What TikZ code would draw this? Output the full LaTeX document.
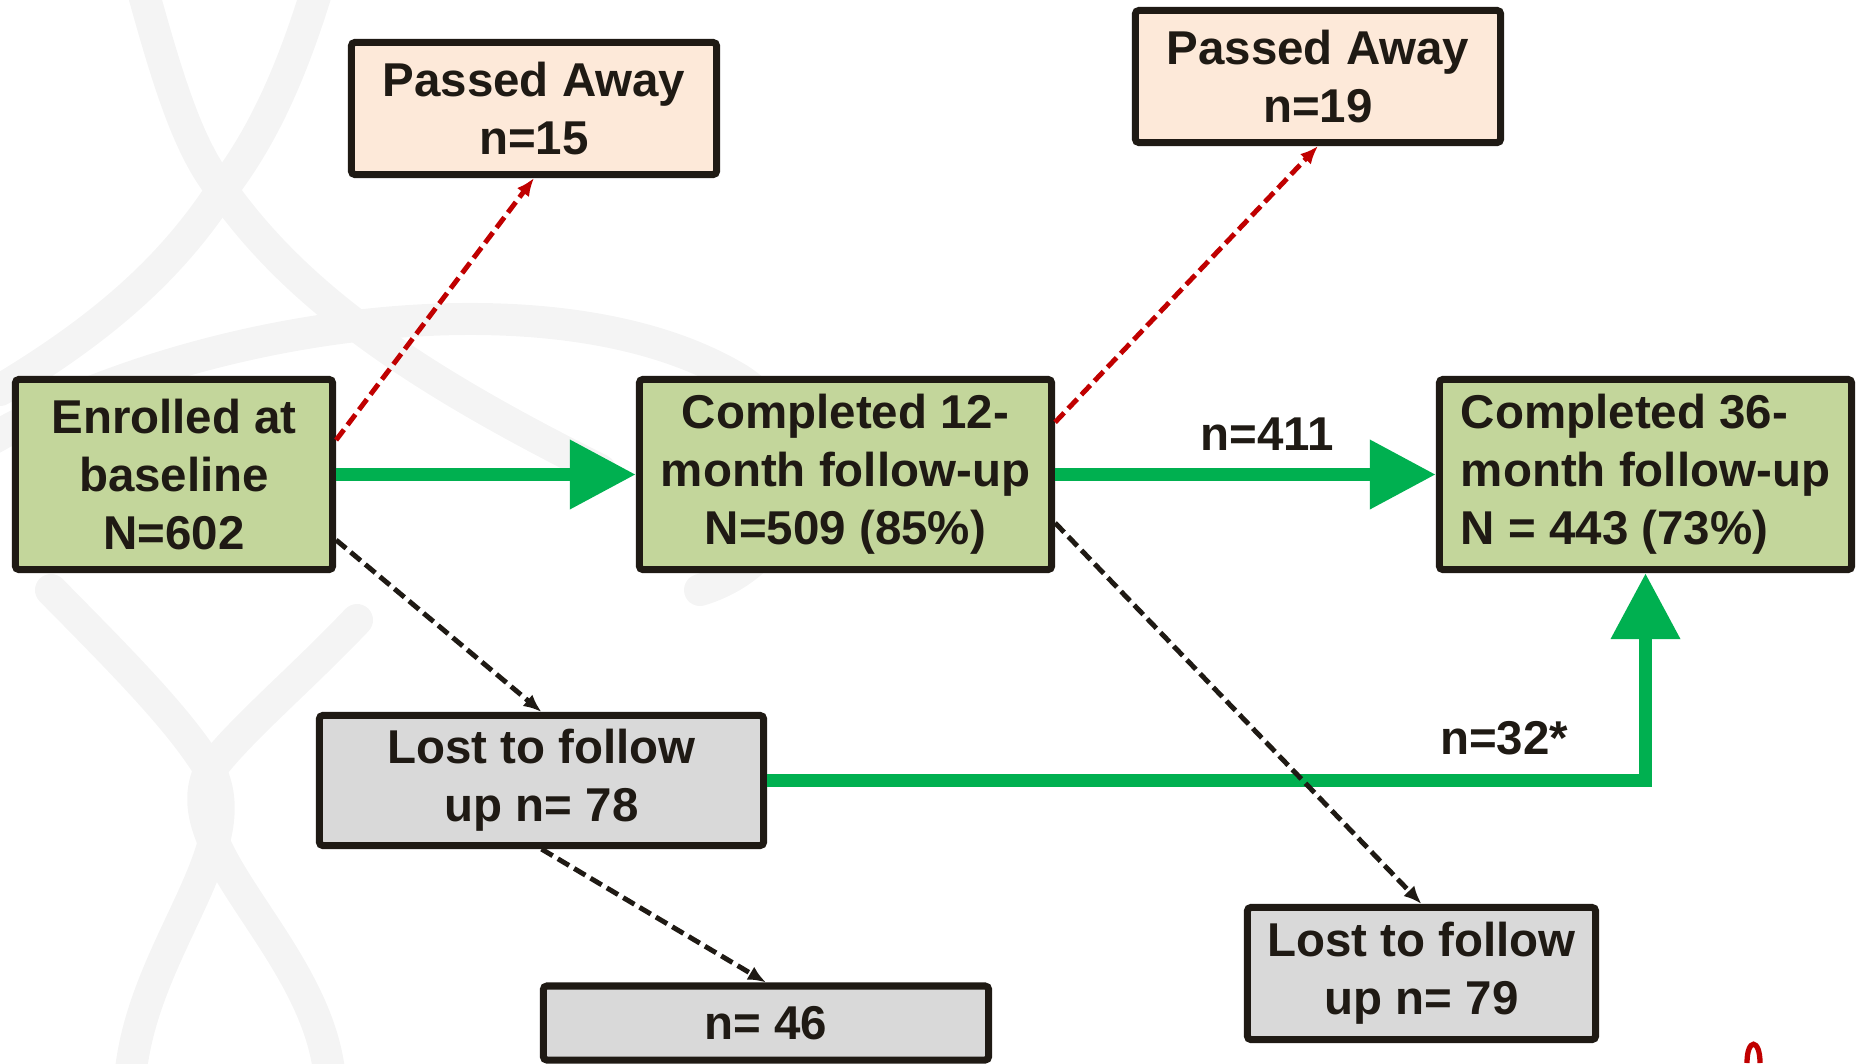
\documentclass[tikz,border=0pt]{standalone}
\usepackage{fontspec}
\setmainfont{Liberation Sans}
\usetikzlibrary{arrows.meta}
\definecolor{boxgreen}{HTML}{C3D69B}
\definecolor{boxpeach}{HTML}{FDE9D9}
\definecolor{boxgrey}{HTML}{D9D9D9}
\definecolor{flowgreen}{HTML}{00B050}
\definecolor{deathred}{HTML}{C00000}
\definecolor{inkdark}{HTML}{1F1A14}
\definecolor{markgrey}{HTML}{F4F4F4}
\tikzset{
    stagebox/.style={draw=inkdark, line width=2pt, rounded corners=1pt, text=inkdark, inner sep=0pt,
        font=\fontsize{13.5}{16.5}\selectfont\bfseries},
    greenbox/.style={stagebox, fill=boxgreen, minimum width=4.12cm, minimum height=1.90cm},
    peachbox/.style={stagebox, fill=boxpeach, align=center, minimum width=3.65cm, minimum height=1.32cm},
    greybox/.style={stagebox, fill=boxgrey, align=center, minimum height=1.30cm},
    countlabel/.style={text=inkdark, font=\fontsize{13.5}{16.5}\selectfont\bfseries},
    flowarrow/.style={draw=flowgreen, line width=0.135cm, -{Triangle[length=0.66cm,width=0.66cm]}},
    deatharrow/.style={draw=deathred, line width=1.4pt, dash pattern=on 0.13cm off 0.06cm, -{Latex[length=0.18cm,width=0.15cm]}},
    lossarrow/.style={draw=inkdark, line width=1.4pt, dash pattern=on 0.13cm off 0.06cm, -{Latex[length=0.18cm,width=0.15cm]}},
    watermark/.style={draw=markgrey, line width=0.32cm, line cap=round}
}

\begin{document}
\begin{tikzpicture}[x=0.01cm, y=-0.01cm]
                \useasboundingbox (0,0) rectangle (1860,1063);

                \draw[watermark] (140,-20) .. controls (170,90) and (190,150) .. (222,190)
                                           .. controls (300,300) and (420,380) .. (600,470);
                \draw[watermark] (320,-20) .. controls (290,80) and (260,140) .. (222,190)
                                           .. controls (170,270) and (100,330) .. (0,390);
                \draw[watermark] (-10,440) .. controls (200,320) and (560,270) .. (740,380)
                                           .. controls (830,440) and (800,560) .. (700,590);
                \draw[watermark] (51,590) .. controls (120,660) and (180,720) .. (210,770)
                                          .. controls (250,850) and (140,950) .. (130,1080);
                \draw[watermark] (357,620) .. controls (300,680) and (240,730) .. (210,770)
                                           .. controls (170,850) and (320,950) .. (330,1080);

                \node[greenbox, align=center, minimum width=3.17cm] (enrol) at (174,474.5) {Enrolled at\\baseline\\N=602};
                \node[greenbox, align=center] (c12) at (845.5,474.5) {Completed 12-\\month follow-up\\N=509 (85\%)};
                \node[greenbox, align=left] (c36) at (1645.5,474.5) {Completed 36-\\month follow-up\\N = 443 (73\%)};
                \node[peachbox] (pa1) at (534,108.5) {Passed Away\\n=15};
                \node[peachbox] (pa2) at (1318,76.5) {Passed Away\\n=19};
                \node[greybox, minimum width=4.44cm] (lost78) at (541.5,780.5) {Lost to follow\\up n= 78};
                \node[greybox, minimum width=4.45cm, minimum height=0.74cm] (n46) at (766,1023) {n= 46};
                \node[greybox, minimum width=3.48cm, minimum height=1.32cm] (lost79) at (1421.5,973.5) {Lost to follow\\up n= 79};

                \node[countlabel] (lbl411) at (1267,434) {n=411};
                \node[countlabel] (lbl32) at (1504,738) {n=32*};

                \draw[flowarrow] (enrol.east) -- (c12.west);
                \draw[flowarrow] (c12.east) -- (c36.west);
                \draw[flowarrow] (lost78.east) -| (c36.south);

                \draw[deatharrow] (enrol.12) -- (pa1.south);
                \draw[deatharrow] (c12.14) -- (pa2.south);
                \draw[lossarrow] (enrol.-22) -- (lost78.north);
                \draw[lossarrow] (c12.-13) -- (lost79.north);
                \draw[lossarrow] (lost78.south) -- (n46.north);

                \draw[deathred, line width=1.5pt] (1747,1063) .. controls (1747,1038) and (1760,1038) .. (1760,1063);
            \end{tikzpicture}
\end{document}
